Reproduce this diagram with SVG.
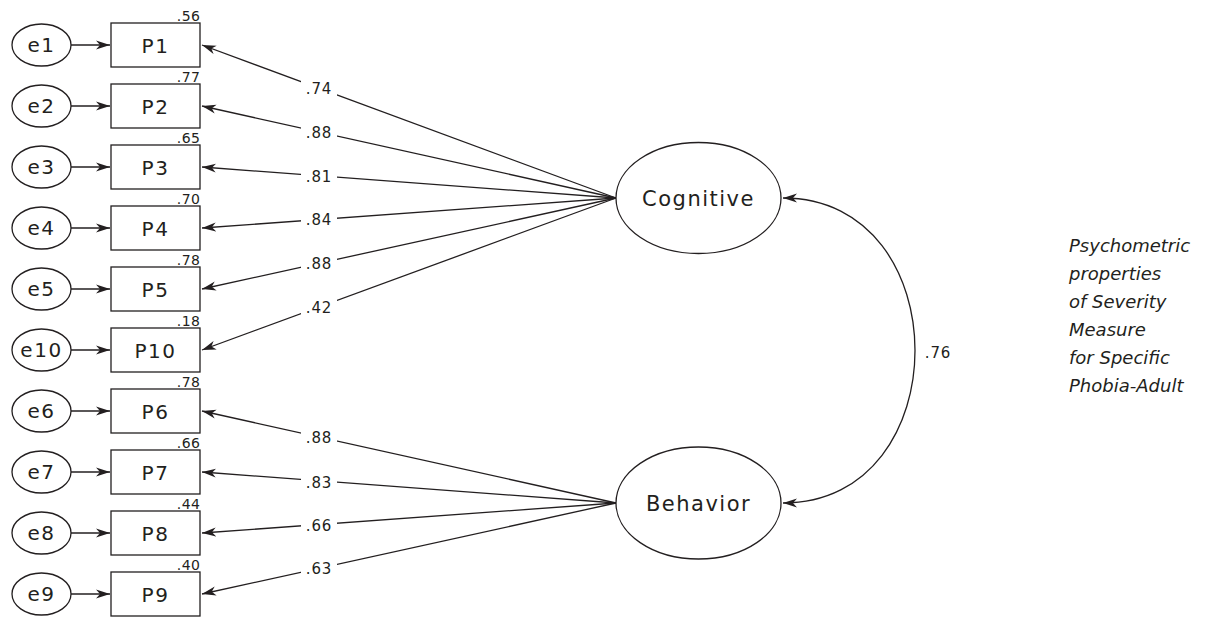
<svg xmlns="http://www.w3.org/2000/svg" width="1211" height="619" viewBox="0 0 1211 619">
<style>
.bg{fill:#ffffff}
.shape{fill:#ffffff;stroke:#231f20;stroke-width:1.3}
.ln{fill:none;stroke:#231f20;stroke-width:1.3}
.nt{font-family:"DejaVu Sans","Liberation Sans",sans-serif;font-size:20px;letter-spacing:1.5px;fill:#231f20;text-anchor:middle}
.lt{font-family:"DejaVu Sans","Liberation Sans",sans-serif;font-size:21px;letter-spacing:1.5px;fill:#231f20;text-anchor:middle}
.r2{font-family:"DejaVu Sans","Liberation Sans",sans-serif;font-size:14px;letter-spacing:0.5px;fill:#231f20;text-anchor:end}
.lb{font-family:"DejaVu Sans","Liberation Sans",sans-serif;font-size:15px;letter-spacing:0.8px;fill:#231f20;text-anchor:middle}
.note{font-family:"DejaVu Sans","Liberation Sans",sans-serif;font-size:18px;font-style:italic;fill:#231f20}
</style>
<defs>
<marker id="ah" viewBox="0 0 14 10" refX="14" refY="5" markerWidth="14" markerHeight="10" markerUnits="userSpaceOnUse" orient="auto-start-reverse">
<path d="M0,0.5 L14,5 L0,9.5 L4,5 Z" fill="#231f20"/>
</marker>
</defs>
<rect class="bg" x="0" y="0" width="1211" height="619"/>

<g id="connectors">
<line class="ln" x1="71" y1="45" x2="110" y2="45" marker-end="url(#ah)"/>
<line class="ln" x1="71" y1="106" x2="110" y2="106" marker-end="url(#ah)"/>
<line class="ln" x1="71" y1="167" x2="110" y2="167" marker-end="url(#ah)"/>
<line class="ln" x1="71" y1="228" x2="110" y2="228" marker-end="url(#ah)"/>
<line class="ln" x1="71" y1="289" x2="110" y2="289" marker-end="url(#ah)"/>
<line class="ln" x1="71" y1="350" x2="110" y2="350" marker-end="url(#ah)"/>
<line class="ln" x1="71" y1="411" x2="110" y2="411" marker-end="url(#ah)"/>
<line class="ln" x1="71" y1="472" x2="110" y2="472" marker-end="url(#ah)"/>
<line class="ln" x1="71" y1="533" x2="110" y2="533" marker-end="url(#ah)"/>
<line class="ln" x1="71" y1="594" x2="110" y2="594" marker-end="url(#ah)"/>

<line class="ln" x1="616" y1="198" x2="202" y2="45" marker-end="url(#ah)"/>
<line class="ln" x1="616" y1="198" x2="202" y2="106" marker-end="url(#ah)"/>
<line class="ln" x1="616" y1="198" x2="202" y2="167" marker-end="url(#ah)"/>
<line class="ln" x1="616" y1="198" x2="202" y2="228" marker-end="url(#ah)"/>
<line class="ln" x1="616" y1="198" x2="202" y2="289" marker-end="url(#ah)"/>
<line class="ln" x1="616" y1="198" x2="202" y2="350" marker-end="url(#ah)"/>
<line class="ln" x1="616" y1="503" x2="202" y2="411" marker-end="url(#ah)"/>
<line class="ln" x1="616" y1="503" x2="202" y2="472" marker-end="url(#ah)"/>
<line class="ln" x1="616" y1="503" x2="202" y2="533" marker-end="url(#ah)"/>
<line class="ln" x1="616" y1="503" x2="202" y2="594" marker-end="url(#ah)"/>

<path class="ln" d="M783,198 C959,198 959,503 783,503" marker-start="url(#ah)" marker-end="url(#ah)"/>

<rect class="bg" x="301" y="79" width="36" height="19"/>
<text class="lb" x="319" y="94">.74</text>
<rect class="bg" x="301" y="123" width="36" height="18"/>
<text class="lb" x="319" y="137.5">.88</text>
<rect class="bg" x="301" y="167" width="36" height="18"/>
<text class="lb" x="319" y="181.5">.81</text>
<rect class="bg" x="301" y="211" width="36" height="18"/>
<text class="lb" x="319" y="225">.84</text>
<rect class="bg" x="301" y="254" width="36" height="18"/>
<text class="lb" x="319" y="268.7">.88</text>
<rect class="bg" x="301" y="297" width="36" height="20"/>
<text class="lb" x="319" y="312.5">.42</text>
<rect class="bg" x="301" y="428" width="36" height="18"/>
<text class="lb" x="319" y="443">.88</text>
<rect class="bg" x="301" y="473" width="36" height="18"/>
<text class="lb" x="319" y="488">.83</text>
<rect class="bg" x="301" y="516" width="36" height="18"/>
<text class="lb" x="319" y="530.5">.66</text>
<rect class="bg" x="301" y="559" width="36" height="19"/>
<text class="lb" x="319" y="574">.63</text>

<text class="lb" x="938" y="357.5">.76</text>
</g>

<g id="e1"><ellipse class="shape" cx="41.5" cy="45" rx="29.5" ry="21"/><text class="nt" x="41.5" y="52">e1</text></g>
<g id="e2"><ellipse class="shape" cx="41.5" cy="106" rx="29.5" ry="21"/><text class="nt" x="41.5" y="113">e2</text></g>
<g id="e3"><ellipse class="shape" cx="41.5" cy="167" rx="29.5" ry="21"/><text class="nt" x="41.5" y="174">e3</text></g>
<g id="e4"><ellipse class="shape" cx="41.5" cy="228" rx="29.5" ry="21"/><text class="nt" x="41.5" y="235">e4</text></g>
<g id="e5"><ellipse class="shape" cx="41.5" cy="289" rx="29.5" ry="21"/><text class="nt" x="41.5" y="296">e5</text></g>
<g id="e10"><ellipse class="shape" cx="41.5" cy="350" rx="29.5" ry="21"/><text class="nt" x="41.5" y="357">e10</text></g>
<g id="e6"><ellipse class="shape" cx="41.5" cy="411" rx="29.5" ry="21"/><text class="nt" x="41.5" y="418">e6</text></g>
<g id="e7"><ellipse class="shape" cx="41.5" cy="472" rx="29.5" ry="21"/><text class="nt" x="41.5" y="479">e7</text></g>
<g id="e8"><ellipse class="shape" cx="41.5" cy="533" rx="29.5" ry="21"/><text class="nt" x="41.5" y="540">e8</text></g>
<g id="e9"><ellipse class="shape" cx="41.5" cy="594" rx="29.5" ry="21"/><text class="nt" x="41.5" y="601">e9</text></g>

<g id="P1"><rect class="shape" x="111" y="23" width="89" height="44"/><text class="nt" x="155.5" y="52.5">P1</text><text class="r2" x="200.5" y="21">.56</text></g>
<g id="P2"><rect class="shape" x="111" y="84" width="89" height="44"/><text class="nt" x="155.5" y="113.5">P2</text><text class="r2" x="200.5" y="82">.77</text></g>
<g id="P3"><rect class="shape" x="111" y="145" width="89" height="44"/><text class="nt" x="155.5" y="174.5">P3</text><text class="r2" x="200.5" y="143">.65</text></g>
<g id="P4"><rect class="shape" x="111" y="206" width="89" height="44"/><text class="nt" x="155.5" y="235.5">P4</text><text class="r2" x="200.5" y="204">.70</text></g>
<g id="P5"><rect class="shape" x="111" y="267" width="89" height="44"/><text class="nt" x="155.5" y="296.5">P5</text><text class="r2" x="200.5" y="265">.78</text></g>
<g id="P10"><rect class="shape" x="111" y="328" width="89" height="44"/><text class="nt" x="155.5" y="357.5">P10</text><text class="r2" x="200.5" y="326">.18</text></g>
<g id="P6"><rect class="shape" x="111" y="389" width="89" height="44"/><text class="nt" x="155.5" y="418.5">P6</text><text class="r2" x="200.5" y="387">.78</text></g>
<g id="P7"><rect class="shape" x="111" y="450" width="89" height="44"/><text class="nt" x="155.5" y="479.5">P7</text><text class="r2" x="200.5" y="448">.66</text></g>
<g id="P8"><rect class="shape" x="111" y="511" width="89" height="44"/><text class="nt" x="155.5" y="540.5">P8</text><text class="r2" x="200.5" y="509">.44</text></g>
<g id="P9"><rect class="shape" x="111" y="572" width="89" height="44"/><text class="nt" x="155.5" y="601.5">P9</text><text class="r2" x="200.5" y="570">.40</text></g>

<g id="Cognitive"><ellipse class="shape" cx="698.5" cy="198" rx="82.5" ry="55.5"/><text class="lt" x="698.5" y="205.5">Cognitive</text></g>
<g id="Behavior"><ellipse class="shape" cx="698.5" cy="503" rx="82.5" ry="56"/><text class="lt" x="698.5" y="510.5">Behavior</text></g>

<g id="note">
<text class="note" x="1069" y="252">Psychometric</text>
<text class="note" x="1069" y="280">properties</text>
<text class="note" x="1069" y="308">of Severity</text>
<text class="note" x="1069" y="336">Measure</text>
<text class="note" x="1069" y="364">for Specific</text>
<text class="note" x="1069" y="392">Phobia-Adult</text>
</g>
</svg>
